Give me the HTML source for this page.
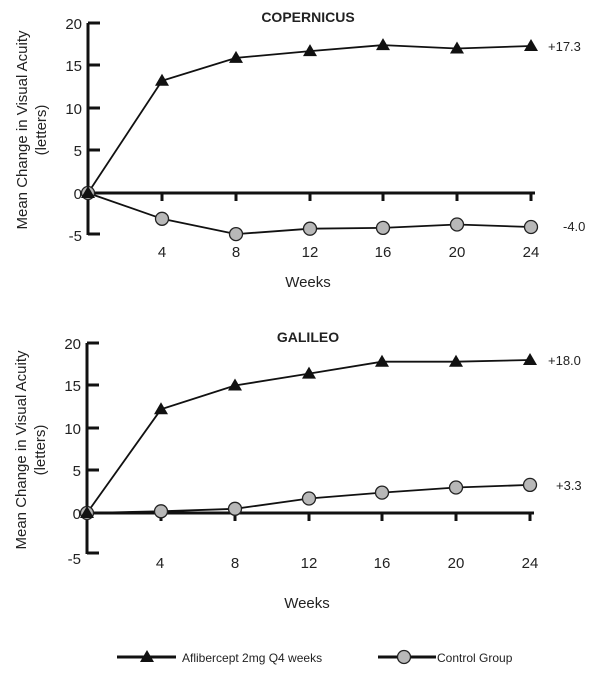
<!DOCTYPE html><html><head><style>body{margin:0;background:#fff}svg{display:block}text{font-family:"Liberation Sans",sans-serif;fill:#222}</style></head><body>
<svg width="616" height="678" viewBox="0 0 616 678">
<defs>
<g id="tri"><polygon points="0,-7 7,5 -7,5" fill="#111"/></g>
<g id="cir"><circle r="6.5" fill="#b8b8b8" stroke="#222" stroke-width="1.3"/></g>
</defs>
<!-- TOP -->
<g>
<text x="308" y="22" font-size="14" font-weight="bold" text-anchor="middle">COPERNICUS</text>
<g stroke="#111" stroke-width="3" fill="none">
<line x1="88" y1="23" x2="88" y2="235"/>
<line x1="88" y1="193" x2="535" y2="193"/>
<line x1="88" y1="23" x2="100" y2="23"/><line x1="88" y1="65" x2="100" y2="65"/><line x1="88" y1="108" x2="100" y2="108"/><line x1="88" y1="150" x2="100" y2="150"/><line x1="88" y1="234" x2="100" y2="234"/>
<line x1="162" y1="193" x2="162" y2="201"/><line x1="236" y1="193" x2="236" y2="201"/><line x1="310" y1="193" x2="310" y2="201"/><line x1="383" y1="193" x2="383" y2="201"/><line x1="457" y1="193" x2="457" y2="201"/><line x1="531" y1="193" x2="531" y2="201"/>
</g>
<g font-size="15" text-anchor="end"><text x="82" y="29">20</text><text x="82" y="71">15</text><text x="82" y="114">10</text><text x="82" y="156">5</text><text x="82" y="199">0</text><text x="82" y="241">-5</text></g>
<g font-size="15" text-anchor="middle"><text x="162" y="257">4</text><text x="236" y="257">8</text><text x="310" y="257">12</text><text x="383" y="257">16</text><text x="457" y="257">20</text><text x="531" y="257">24</text></g>
<text x="308" y="287" font-size="15" text-anchor="middle">Weeks</text>
<text transform="translate(27,130) rotate(-90)" font-size="15" text-anchor="middle">Mean Change in Visual Acuity</text>
<text transform="translate(46,130) rotate(-90)" font-size="15" text-anchor="middle">(letters)</text>
<polyline fill="none" stroke="#111" stroke-width="1.8" points="88,193 162,218.8 236,234.1 310,228.7 383,227.9 457,224.5 531,227"/>
<polyline fill="none" stroke="#111" stroke-width="1.8" points="88,193 162,80.8 236,57.9 310,51.1 383,45.1 457,48.5 531,46"/>
<use href="#cir" x="88" y="193"/><use href="#cir" x="162" y="218.8"/><use href="#cir" x="236" y="234.1"/><use href="#cir" x="310" y="228.7"/><use href="#cir" x="383" y="227.9"/><use href="#cir" x="457" y="224.5"/><use href="#cir" x="531" y="227"/>
<use href="#tri" x="88" y="193"/><use href="#tri" x="162" y="80.8"/><use href="#tri" x="236" y="57.9"/><use href="#tri" x="310" y="51.1"/><use href="#tri" x="383" y="45.1"/><use href="#tri" x="457" y="48.5"/><use href="#tri" x="531" y="46"/>
<text x="548" y="51" font-size="13">+17.3</text>
<text x="563" y="231" font-size="13">-4.0</text>
</g>
<!-- BOTTOM -->
<g transform="translate(-1,320)">
<text x="309" y="22" font-size="14" font-weight="bold" text-anchor="middle">GALILEO</text>
<g stroke="#111" stroke-width="3" fill="none">
<line x1="88" y1="23" x2="88" y2="234"/>
<line x1="88" y1="193" x2="535" y2="193"/>
<line x1="88" y1="23" x2="100" y2="23"/><line x1="88" y1="65" x2="100" y2="65"/><line x1="88" y1="108" x2="100" y2="108"/><line x1="88" y1="150" x2="100" y2="150"/><line x1="88" y1="233" x2="100" y2="233"/>
<line x1="162" y1="193" x2="162" y2="201"/><line x1="236" y1="193" x2="236" y2="201"/><line x1="310" y1="193" x2="310" y2="201"/><line x1="383" y1="193" x2="383" y2="201"/><line x1="457" y1="193" x2="457" y2="201"/><line x1="531" y1="193" x2="531" y2="201"/>
</g>
<g font-size="15" text-anchor="end"><text x="82" y="29">20</text><text x="82" y="71">15</text><text x="82" y="114">10</text><text x="82" y="156">5</text><text x="82" y="199">0</text><text x="82" y="244">-5</text></g>
<g font-size="15" text-anchor="middle"><text x="161" y="248">4</text><text x="236" y="248">8</text><text x="310" y="248">12</text><text x="383" y="248">16</text><text x="457" y="248">20</text><text x="531" y="248">24</text></g>
<text x="308" y="288" font-size="15" text-anchor="middle">Weeks</text>
<text transform="translate(27,130) rotate(-90)" font-size="15" text-anchor="middle">Mean Change in Visual Acuity</text>
<text transform="translate(46,130) rotate(-90)" font-size="15" text-anchor="middle">(letters)</text>
<polyline fill="none" stroke="#111" stroke-width="1.8" points="88,193 162,191.3 236,188.8 310,178.5 383,172.6 457,167.5 531,164.9"/>
<polyline fill="none" stroke="#111" stroke-width="1.8" points="88,193 162,89.3 236,65.5 310,53.6 383,41.7 457,41.7 531,40"/>
<use href="#cir" x="88" y="193"/><use href="#cir" x="162" y="191.3"/><use href="#cir" x="236" y="188.8"/><use href="#cir" x="310" y="178.5"/><use href="#cir" x="383" y="172.6"/><use href="#cir" x="457" y="167.5"/><use href="#cir" x="531" y="164.9"/>
<use href="#tri" x="88" y="193"/><use href="#tri" x="162" y="89.3"/><use href="#tri" x="236" y="65.5"/><use href="#tri" x="310" y="53.6"/><use href="#tri" x="383" y="41.7"/><use href="#tri" x="457" y="41.7"/><use href="#tri" x="531" y="40"/>
<text x="549" y="45" font-size="13">+18.0</text>
<text x="557" y="170" font-size="13">+3.3</text>
</g>
<!-- LEGEND -->
<line x1="117" y1="657" x2="176" y2="657" stroke="#111" stroke-width="3"/>
<use href="#tri" x="147" y="657"/>
<text x="182" y="662" font-size="12">Aflibercept 2mg Q4 weeks</text>
<line x1="378" y1="657" x2="436" y2="657" stroke="#111" stroke-width="3"/>
<use href="#cir" x="404" y="657"/>
<text x="437" y="662" font-size="12">Control Group</text>
</svg>
</body></html>
